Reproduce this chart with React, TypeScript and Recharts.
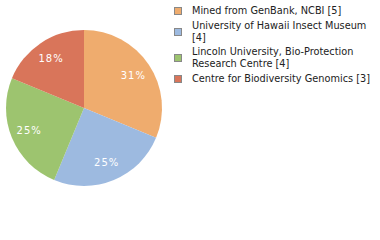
import { PieChart, Pie, Cell } from 'recharts'

const sources = [
  'Mined from GenBank, NCBI',
  'University of Hawaii Insect Museum',
  'Lincoln University, Bio-Protection Research Centre',
  'Centre for Biodiversity Genomics',
]
const counts = [5, 4, 4, 3]
// how the legend text wraps in the picture
const legendLines = [
  ['Mined from GenBank, NCBI [5]'],
  ['University of Hawaii Insect Museum', '[4]'],
  ['Lincoln University, Bio-Protection', 'Research Centre [4]'],
  ['Centre for Biodiversity Genomics [3]'],
]
const COLORS = ['#EFAC6E', '#9DBAE0', '#9DC46F', '#D9755A']

const total = counts.reduce((s, c) => s + c, 0)
const data = sources.map((name, i) => ({ name, count: counts[i] }))

const RADIAN = Math.PI / 180

function renderLabel({ cx, cy, midAngle, outerRadius, value }: any) {
  const r = outerRadius * 0.76
  const x = cx + r * Math.cos(-midAngle * RADIAN)
  const y = cy + r * Math.sin(-midAngle * RADIAN)
  return (
    <text
      x={x}
      y={y}
      fill="#fff"
      fontSize={10}
      letterSpacing={1}
      fontFamily="DejaVu Sans"
      textAnchor="middle"
      dominantBaseline="central"
    >
      {Math.floor((value / total) * 100)}%
    </text>
  )
}

function ChartLegend() {
  return (
    <div
      style={{
        position: 'absolute',
        left: 174,
        top: 5,
        fontFamily: 'DejaVu Sans',
        fontSize: 9.75,
        color: '#222',
      }}
    >
      {legendLines.map((lines, i) => (
        <div key={i} style={{ display: 'flex', alignItems: 'center', marginBottom: 3 }}>
          <div
            style={{
              width: 6,
              height: 6,
              background: COLORS[i],
              border: '1px solid #888',
              marginRight: 10,
              flexShrink: 0,
            }}
          />
          <div style={{ lineHeight: '11.75px', whiteSpace: 'nowrap' }}>
            {lines.map((l, j) => (
              <div key={j}>{l}</div>
            ))}
          </div>
        </div>
      ))}
    </div>
  )
}

export default function App() {
  return (
    <div style={{ position: 'absolute', left: 0, top: 0, width: 380, height: 240, background: '#fff' }}>
      <PieChart width={380} height={240} margin={{ top: 0, right: 0, bottom: 0, left: 0 }}>
        <Pie
          data={data}
          dataKey="count"
          nameKey="name"
          cx={84}
          cy={108}
          outerRadius={78}
          startAngle={90}
          endAngle={-270}
          stroke="none"
          label={renderLabel}
          labelLine={false}
          isAnimationActive={false}
        >
          {data.map((_, i) => (
            <Cell key={`cell-${i}`} fill={COLORS[i]} />
          ))}
        </Pie>
      </PieChart>
      <ChartLegend />
    </div>
  )
}
